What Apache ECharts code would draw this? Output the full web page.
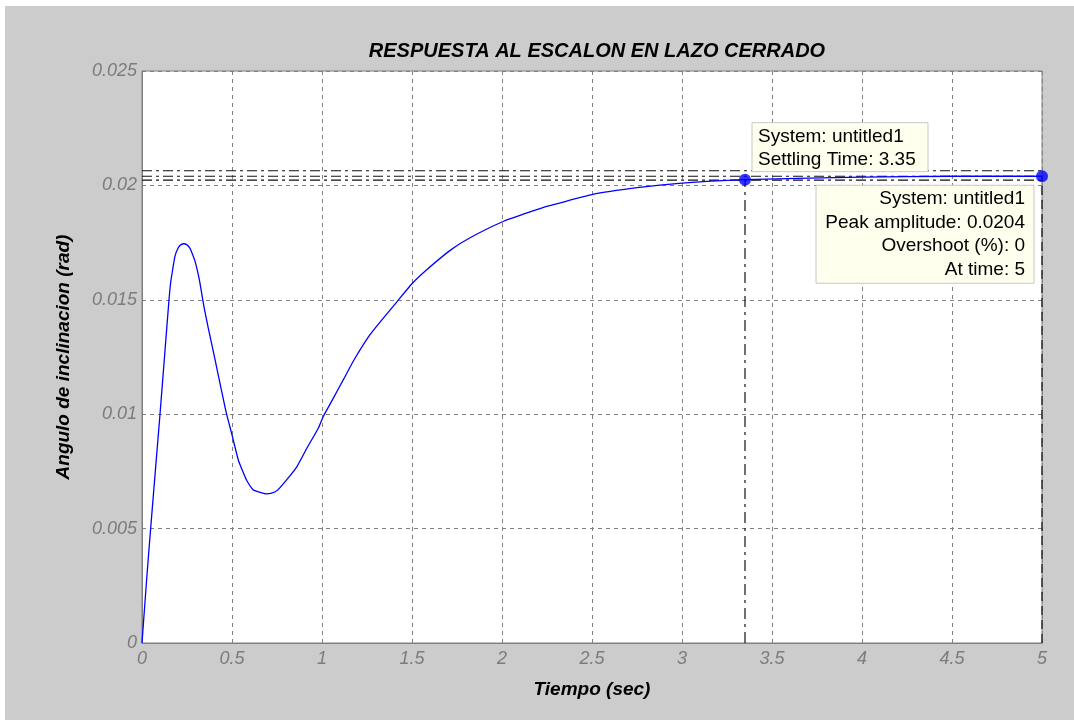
<!DOCTYPE html>
<html>
<head>
<meta charset="utf-8">
<script src="https://cdn.jsdelivr.net/npm/echarts@6.0.0/dist/echarts.min.js"></script>
<style>
html,body{margin:0;padding:0;background:#ffffff;}
#chart{width:1074px;height:720px;}
</style>
</head>
<body>
<div id="chart"></div>
<script>
// ---- data ----
const chartTitle = 'RESPUESTA AL ESCALON EN LAZO CERRADO';
const xAxisName = 'Tiempo (sec)';
const yAxisName = 'Angulo de inclinacion (rad)';

const timeValues = [0, 0.026, 0.048, 0.075, 0.1, 0.125, 0.15, 0.16, 0.17, 0.183, 0.2, 0.215, 0.233, 0.25, 0.267, 0.28, 0.294, 0.31, 0.322, 0.344, 0.37, 0.4, 0.44, 0.47, 0.5, 0.535, 0.56, 0.582, 0.617, 0.65, 0.69, 0.72, 0.75, 0.8, 0.86, 0.915, 0.98, 1.007, 1.063, 1.118, 1.18, 1.26, 1.32, 1.415, 1.5, 1.58, 1.71, 1.82, 2.0, 2.16, 2.26, 2.5, 2.75, 3.0, 3.35, 3.7, 4.0, 4.5, 5.0];
const responseValues = [0, 0.0028, 0.005, 0.0076, 0.01, 0.0125, 0.015, 0.0158, 0.0163, 0.0169, 0.01725, 0.0174, 0.01745, 0.0174, 0.01725, 0.017, 0.0167, 0.0162, 0.01573, 0.01471, 0.0137, 0.0126, 0.0111, 0.01, 0.0091, 0.008, 0.0075, 0.0071, 0.0067, 0.0066, 0.00652, 0.00655, 0.00666, 0.0071, 0.0077, 0.0085, 0.0094, 0.0099, 0.0107, 0.0115, 0.0124, 0.0134, 0.014, 0.0149, 0.0157, 0.0163, 0.01715, 0.0177, 0.0184, 0.01885, 0.0191, 0.0196, 0.0199, 0.0201, 0.02025, 0.02032, 0.02036, 0.0204, 0.0204];

const xMin = 0, xMax = 5, xStep = 0.5;
const yMin = 0, yMax = 0.025, yStep = 0.005;

const settlingTime = 3.35;
const settlingValue = 0.02025;
const bandUpper = 0.02064;
const bandLower = 0.02023;
const peakTime = 5;
const peakAmplitude = 0.0204;

const settlingText = ['System: untitled1', 'Settling Time: 3.35'];
const peakText = ['System: untitled1', 'Peak amplitude: 0.0204', 'Overshoot (%): 0', 'At time: 5'];

// ---- chart ----
const chart = echarts.init(document.getElementById('chart'), null, {renderer: 'canvas'});
const FONT = "'Liberation Sans', Arial, sans-serif";
const dashDot = [10, 4, 3, 4];

function refLine(points, type, color) {
  return {
    type: 'line', data: points, symbol: 'none', silent: true, animation: false,
    lineStyle: {color: color, width: 1.2, type: type}, z: 3
  };
}

const option = {
  animation: false,
  backgroundColor: '#cccccc',
  title: {
    text: chartTitle, left: 592, top: 36, textAlign: 'center',
    textStyle: {fontFamily: FONT, fontSize: 20, fontWeight: 'bold', fontStyle: 'italic', color: '#000'}
  },
  grid: {left: 142, top: 71, width: 900, height: 572, show: true, backgroundColor: '#ffffff', borderColor: '#808080', borderWidth: 1},
  xAxis: {
    type: 'value', min: xMin, max: xMax, interval: xStep,
    name: xAxisName, nameLocation: 'middle', nameGap: 37,
    nameTextStyle: {fontFamily: FONT, fontSize: 19, fontWeight: 'bold', fontStyle: 'italic', color: '#000'},
    axisLine: {show: true, lineStyle: {color: '#808080', width: 1}},
    axisTick: {show: true, inside: true, length: 4, lineStyle: {color: '#808080'}},
    axisLabel: {fontFamily: FONT, fontSize: 18, fontStyle: 'italic', color: '#7c7c7c', margin: 7},
    splitLine: {show: true, lineStyle: {color: '#808080', width: 1, type: [4, 4]}}
  },
  yAxis: {
    type: 'value', min: yMin, max: yMax, interval: yStep,
    name: yAxisName, nameLocation: 'middle', nameGap: 69,
    nameTextStyle: {fontFamily: FONT, fontSize: 19, fontWeight: 'bold', fontStyle: 'italic', color: '#000'},
    axisLine: {show: true, lineStyle: {color: '#808080', width: 1}},
    axisTick: {show: true, inside: true, length: 4, lineStyle: {color: '#808080'}},
    axisLabel: {fontFamily: FONT, fontSize: 18, fontStyle: 'italic', color: '#7c7c7c', margin: 5},
    splitLine: {show: true, lineStyle: {color: '#808080', width: 1, type: [4, 4]}}
  },
  series: [
    refLine([[xMin, bandUpper], [xMax, bandUpper]], dashDot, '#111'),
    refLine([[xMin, bandLower], [xMax, bandLower]], dashDot, '#111'),
    refLine([[xMin, peakAmplitude], [peakTime, peakAmplitude]], dashDot, '#111'),
    refLine([[settlingTime, yMin], [settlingTime, settlingValue]], [11, 5, 3, 5], '#111'),
    refLine([[peakTime, yMin], [peakTime, peakAmplitude]], [9, 5], '#111'),
    {
      type: 'line', data: timeValues.map((t, i) => [t, responseValues[i]]),
      symbol: 'none', smooth: 0.2, z: 5,
      lineStyle: {color: '#0000ff', width: 1.3}
    },
    {
      type: 'scatter', data: [[settlingTime, settlingValue], [peakTime, peakAmplitude]],
      symbol: 'circle', symbolSize: 12, clip: false, z: 6,
      itemStyle: {color: '#0000ff'}
    }
  ]
};
chart.setOption(option);

// annotation boxes anchored to the marked points
const sp = chart.convertToPixel({gridIndex: 0}, [settlingTime, settlingValue]);
const pp = chart.convertToPixel({gridIndex: 0}, [peakTime, peakAmplitude]);
const boxFill = '#ffffee', boxStroke = '#c8c8c8';
chart.setOption({
  graphic: [
    {type: 'rect', shape: {x: 0, y: 0, width: 1074, height: 6}, style: {fill: '#ffffff'}, silent: true},
    {type: 'rect', shape: {x: 0, y: 0, width: 5, height: 720}, style: {fill: '#ffffff'}, silent: true},
    {type: 'rect', z: 100, shape: {x: sp[0] + 7, y: sp[1] - 57, width: 176, height: 49},
     style: {fill: boxFill, stroke: boxStroke, lineWidth: 1}},
    {type: 'text', z: 101, x: sp[0] + 13, y: sp[1] - 54.5,
     style: {text: settlingText.join('\n'), font: '19px ' + FONT, fill: '#000', lineHeight: 23, textAlign: 'left', textVerticalAlign: 'top'}},
    {type: 'rect', z: 100, shape: {x: pp[0] - 226, y: pp[1] + 9, width: 218, height: 98},
     style: {fill: boxFill, stroke: boxStroke, lineWidth: 1}},
    {type: 'text', z: 101, x: pp[0] - 17, y: pp[1] + 11,
     style: {text: peakText.join('\n'), font: '19px ' + FONT, fill: '#000', lineHeight: 23.5, textAlign: 'right', textVerticalAlign: 'top'}}
  ]
});
</script>
</body>
</html>
